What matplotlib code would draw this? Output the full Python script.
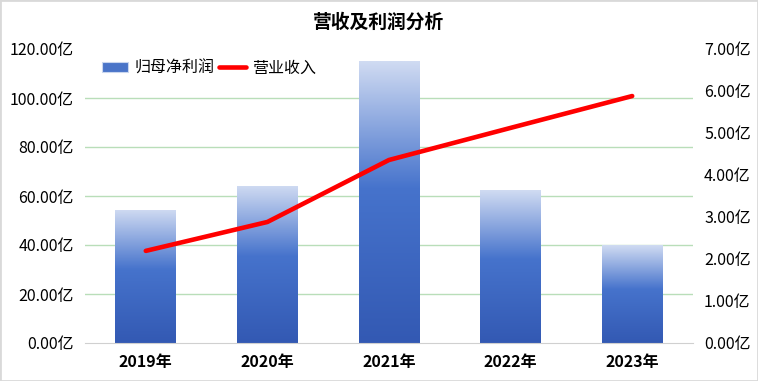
import numpy as np
import matplotlib
matplotlib.use('Agg')
import matplotlib.pyplot as plt
from matplotlib.colors import LinearSegmentedColormap
from matplotlib.patches import Patch, Rectangle
from matplotlib.lines import Line2D

plt.rcParams['font.family'] = ['Noto Sans CJK SC', 'DejaVu Sans']

years = ['2019年', '2020年', '2021年', '2022年', '2023年']
net_profit = [3.17, 3.74, 6.71, 3.64, 2.33]      # 归母净利润 (亿), right axis
revenue = [37.6, 49.4, 74.7, 87.8, 100.8]        # 营业收入 (亿), left axis
right_ticks = [0, 1, 2, 3, 4, 5, 6, 7]
left_ticks = [0, 20, 40, 60, 80, 100, 120]

fig = plt.figure(figsize=(7.58, 3.81), dpi=100)
ax = fig.add_axes([85 / 758, 1 - 343 / 381, 608 / 758, 294 / 381])
ax2 = ax.twinx()

x = np.arange(len(years))

# bars with vertical gradient
grad = LinearSegmentedColormap.from_list(
    'g', [(0.0, '#3359b3'), (0.55, '#4673cc'), (1.0, '#d0dbf2')])
bars = ax.bar(x, net_profit, width=0.5, color='none', zorder=2)
for b in bars:
    x0, y0 = b.get_x(), b.get_y()
    w, h = b.get_width(), b.get_height()
    im = ax.imshow(np.linspace(0, 1, 256).reshape(-1, 1), cmap=grad,
                   origin='lower', aspect='auto',
                   extent=[x0, x0 + w, y0, y0 + h], zorder=2)
    im.set_clip_path(b)

ax.set_xlim(-0.5, len(years) - 0.5)
ax.set_ylim(0, 7)
ax.yaxis.tick_right()
ax.set_yticks(right_ticks)
ax.set_yticklabels([f'{v:.2f}亿' for v in right_ticks])
# gridlines follow the left axis (6 intervals)
ax.set_yticks(np.linspace(0, 7, len(left_ticks)), minor=True)
ax.grid(which='minor', axis='y', color='#b9deb9', lw=1, zorder=0)
ax.tick_params(axis='y', which='both', length=0, pad=8, labelsize=11.5)
ax.set_xticks(x)
ax.set_xticklabels(years, fontweight='bold')
ax.tick_params(axis='x', length=0, pad=8, labelsize=11.5)
for s in ['top', 'left', 'right']:
    ax.spines[s].set_visible(False)
ax.spines['bottom'].set_color('#d0d0d0')

ax2.plot(x, revenue, color='#ff0000', lw=3.3, solid_capstyle='round', zorder=5)
ax2.set_ylim(0, 120)
ax2.yaxis.tick_left()
ax2.set_yticks(left_ticks)
ax2.set_yticklabels([f'{v:.2f}亿' for v in left_ticks])
ax2.tick_params(axis='y', length=0, pad=8, labelsize=11.5)
for s in ['top', 'left', 'right', 'bottom']:
    ax2.spines[s].set_visible(False)

handles = [Patch(facecolor='#4a74c8', edgecolor='#c9d6ee', lw=0.8),
           Line2D([0], [0], color='#ff0000', lw=3.3, solid_capstyle='round')]
ax2.legend(handles, ['归母净利润', '营业收入'], loc='center left',
           bbox_to_anchor=(0.004, 0.935), ncol=2, frameon=False,
           fontsize=11.5, handlelength=1.65, handleheight=0.6,
           handletextpad=0.4, columnspacing=0.3)

fig.text(0.5, 1 - 22 / 381, '营收及利润分析', ha='center', va='center',
         fontsize=13.5, fontweight='bold')
fig.patches.append(Rectangle((0, 0), 1, 1, transform=fig.transFigure,
                             fill=False, edgecolor='#d9d9d9', lw=2))

fig.savefig('out.png', dpi=100)
